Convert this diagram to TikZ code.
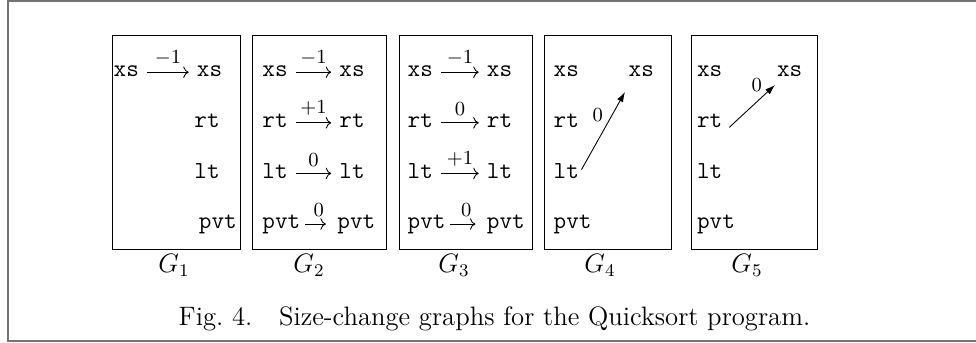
\documentclass[tikz,border=0pt]{standalone}
\usetikzlibrary{arrows.meta}

\begin{document}
\begin{tikzpicture}[x=.45pt,y=-.45pt,every node/.style={inner sep=0pt},
  sym/.style={font=\fontsize{11}{13}\ttfamily,anchor=base west,text height=6.7pt,text depth=2.4pt},
  lab/.style={font=\small,above,inner sep=3pt},
  gname/.style={font=\large,anchor=base},
  ar/.style={->,shorten <=3.5pt,shorten >=3.5pt},
  sar/.style={->,shorten <=2pt,shorten >=5pt},
  ed/.style={-{Latex[length=4.5pt,width=3pt]}}]
\useasboundingbox(0,0)rectangle(976,343);
\draw[black!55,line width=.9pt](976,1)--(8,1)--(8,341)--(976,341);
% G1
\draw(112.7,35.7)rectangle(240.3,249);
\node[sym](l1xs)at(113.3,77){xs};\node[sym](r1xs)at(196.5,77){xs};
\node[sym](r1rt)at(194,127.6){rt};\node[sym](r1lt)at(194,178.2){lt};\node[sym](r1pvt)at(198.5,228.8){pvt};
\draw[ar](l1xs)--(r1xs)node[midway,lab]{$-1$};
\node[gname]at(174,273){$G_1$};
% G2
\draw(252.5,35.7)rectangle(386,249);
\node[sym](l2xs)at(262,77){xs};\node[sym](l2rt)at(262,127.6){rt};\node[sym](l2lt)at(262,178.2){lt};\node[sym](l2pvt)at(262,228.8){pvt};
\node[sym](r2xs)at(339,77){xs};\node[sym](r2rt)at(339,127.6){rt};\node[sym](r2lt)at(339,178.2){lt};\node[sym](r2pvt)at(337,228.8){pvt};
\draw[ar](l2xs)--(r2xs)node[midway,lab]{$-1$};
\draw[ar](l2rt)--(r2rt)node[midway,lab]{$+1$};
\draw[ar](l2lt)--(r2lt)node[midway,lab]{$0$};
\draw[sar](l2pvt)--(r2pvt)node[midway,lab]{$0$};
\node[gname]at(309,273){$G_2$};
% G3
\draw(399,35.7)rectangle(532.7,249);
\node[sym](l3xs)at(407.3,77){xs};\node[sym](l3rt)at(407.3,127.6){rt};\node[sym](l3lt)at(407.3,178.2){lt};\node[sym](l3pvt)at(407.3,228.8){pvt};
\node[sym](r3xs)at(486.5,77){xs};\node[sym](r3rt)at(486.5,127.6){rt};\node[sym](r3lt)at(486.5,178.2){lt};\node[sym](r3pvt)at(486.5,228.8){pvt};
\draw[ar](l3xs)--(r3xs)node[midway,lab]{$-1$};
\draw[ar](l3rt)--(r3rt)node[midway,lab]{$0$};
\draw[ar](l3lt)--(r3lt)node[midway,lab]{$+1$};
\draw[sar](l3pvt)--(r3pvt)node[midway,lab]{$0$};
\node[gname]at(454,273){$G_3$};
% G4
\draw(544.7,35.7)rectangle(671.7,249);
\node[sym](l4xs)at(553.3,77){xs};\node[sym](l4rt)at(553.3,127.6){rt};\node[sym](l4lt)at(553.3,178.2){lt};\node[sym](l4pvt)at(553.3,228.8){pvt};
\node[sym](r4xs)at(628.3,77){xs};
\coordinate(t4)at(625,92);
\draw[ed,shorten <=2pt](l4lt.east)--(t4)node[pos=.72,left=4pt,font=\small]{0};
\node[gname]at(600,273){$G_4$};
% G5
\draw(691,35.7)rectangle(817,249);
\node[sym](l5xs)at(696.7,77){xs};\node[sym](l5rt)at(696.7,127.6){rt};\node[sym](l5lt)at(696.7,178.2){lt};\node[sym](l5pvt)at(696.7,228.8){pvt};
\node[sym](r5xs)at(776.7,77){xs};
\coordinate(t5)at(775,85);
\draw[ed,shorten <=4pt](l5rt.south east)--(t5)node[pos=.8,above left,inner sep=1pt,font=\small]{0};
\node[gname]at(747,273){$G_5$};
\node[font=\large,anchor=base]at(494.5,325.2){Fig.~4.\quad Size-change graphs for the Quicksort program.};
\end{tikzpicture}
\end{document}
